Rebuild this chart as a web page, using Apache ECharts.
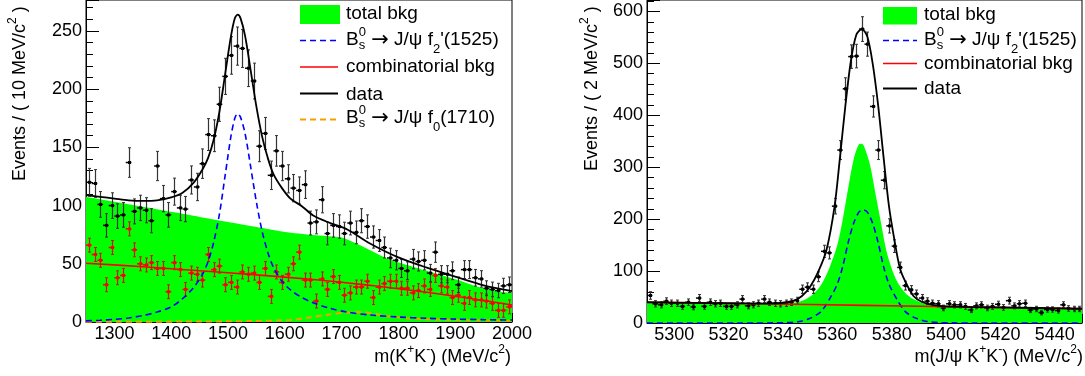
<!DOCTYPE html>
<html>
<head>
<meta charset="utf-8">
<script src="https://cdn.jsdelivr.net/npm/echarts@6.0.0/dist/echarts.min.js"></script>
<style>
  html, body { margin: 0; padding: 0; background: #fff; }
  #chart { width: 1085px; height: 376px; }
</style>
</head>
<body>
<div id="chart"></div>
<script>
// ---- left panel: m(K+K-), 10 MeV bins ----
const kkBins = [];
for (let m = 1255; m < 2000; m += 10) kkBins.push(m);

const kkData = [120,119,101,83,100,91,92,137,95,98, 96,87,134,106,92,112,98,97,122,116,
  136,161,160,187,211,229,237,235,218,207, 151,162,126,147,134,123,115,113,118,85,
  86,105,76,83,82,76,85,77,87,82, 73,70,64,55,53,46,44,54,52,53,
  42,60,41,41,44,32,45,45,38,37, 29,28,27,31,32];

const kkComb = [66,58,53,32,64,38,40,80,62,50, 49,51,46,46,26,51,45,28,42,41,
  36,58,45,48,32,34,30,43,41,42, 34,46,22,43,34,41,50,60,36,36,
  18,37,28,39,34,23,25,30,30,35, 21,30,33,35,35,29,29,25,27,31,
  28,40,31,30,21,23,16,21,19,19, 18,16,10,10,13];
const kkCombErr = 6;

const kkFitM = [1250,1275,1300,1325,1350,1375,1400,1420,1440,1455,1465,1475,1485,1495,1505,1512,1517,1522,
  1530,1540,1550,1560,1570,1580,1595,1610,1630,1650,1680,1710,1750,1800,1850,1900,1950,2000];
const kkFitTotal = [109,107.5,106,104.5,104,104.5,107,111,120,131,141,157,181,213,245,261,264,261,
  246,216,185,159.5,141,127,115,106,99.5,91.5,85,79.5,67.5,55.5,46.7,39,31.5,26.5];
const kkFitSig = [1,1.5,2.3,3.5,5.5,8.5,13,20,30,41,52,69,93,126,159,175,179,176,
  162,133,103,78,60,47,35,27.5,21,16.5,11.7,8.5,6,4.3,3.2,2.5,2,1.7];

const kkBkgM = [1250,1300,1350,1400,1450,1500,1550,1600,1650,1700,1720,1745,1780,1815,1845,1875,1905,1940,1980,2000];
const kkBkg = [107.6,103.3,99,94.6,90.3,86,81.7,77.4,74.8,72.6,68.8,63,54.6,49,44.6,40.3,36,30.2,26,24.8];

const kkCombM = [1250,1350,1450,1550,1650,1750,1850,1950,2000];
const kkCombFit = [50.5,47.5,44,40.5,36.5,31.5,25.5,18.5,14.5];

const kkF0M = [1250,1450,1550,1611,1645,1675,1700,1720,1740,1760,1786,1815,1845,1900,1950,2000];
const kkF0 = [0.2,0.4,0.9,1.8,4,6.2,7.8,8.5,8.2,6.8,4.8,3.3,2.4,1.7,1.3,1.1];

// ---- right panel: m(J/psi K+K-), 2 MeV bins ----
const jpsiBins = [];
for (let m = 5291; m < 5450; m += 2) jpsiBins.push(m);

const jpsiData = [53,37,35,42,38,38,32,40,31,48, 32,40,37,38,32,32,35,46,33,35,
  38,46,40,38,37,38,40,43,65,69, 65,89,138,135,225,333,451,513,514,566,
  537,417,333,275,187,148,107,72,64,56, 48,42,38,37,29,37,35,35,32,25,
  33,35,29,32,36,30,43,33,37,38, 25,27,20,26,26,24,35,28,27,27];

const jpsiFitM = [5290,5320,5335,5340,5344,5347,5350,5353,5356,5359,5361,5363,5365,5367,5369,5371,5373,
  5375,5377,5379,5381,5383,5385,5388,5391,5395,5400,5420,5450];
const jpsiFitTotal = [40,38,37.5,39,43,52,70,99,140,225,320,420,505,555,566,552,500,
  420,320,225,160,106,80,52,41,35,32,30,27.5];

const jpsiBkgM = [5290,5330,5340,5345,5348,5351,5354,5357,5360,5362,5364,5366,5368,5369,5370,5372,5374,
  5376,5378,5380,5382,5385,5388,5391,5395,5410,5450];
const jpsiBkg = [39.5,37.5,38,40,45,55,73,105,150,200,260,315,344,345,338,305,250,
  195,140,105,80,58,46,39,35,31,28];

const jpsiSigM = [5290,5330,5336.5,5341.5,5346,5350,5354,5357,5360,5362,5364,5366,5368,5369.5,5371,5373,5375,
  5377,5379,5382,5385,5389,5393,5397.5,5402.5,5410,5450];
const jpsiSig = [0,0,0.2,0.8,3,9,22,45,75,109,155,192,214,218,214,192,155,
  109,75,45,22,9,3,0.8,0.2,0,0];

const jpsiCombM = [5290,5330,5370,5410,5450];
const jpsiCombFit = [40,37,34,30.5,27.5];

// ---- helpers ----
const zip = (xs, ys) => xs.map((x, i) => [x, ys[i]]);
const FONT = '"Liberation Sans", Arial, sans-serif';
const ARROW_FONT = '"DejaVu Sans", sans-serif';

const measure = document.createElement('canvas').getContext('2d');
function textWidth(s, size, family) {
	measure.font = size + 'px ' + (family || FONT);
	return measure.measureText(s).width;
}

// parts: {t, s, dy, f} or {stack: [...]} laid out left to right
function richText(parts, x, y, opts) {
	opts = opts || {};
	const children = [];
	let cx = 0;
	const put = (p, px) => children.push({
		type: 'text', x: px, y: p.dy || 0,
		style: { text: p.t, font: p.s + 'px ' + (p.f || FONT), fill: '#000', verticalAlign: 'middle', align: 'left' }
	});
	parts.forEach(p => {
		if (p.stack) {
			p.stack.forEach(q => put(q, cx));
			cx += Math.max(...p.stack.map(q => textWidth(q.t, q.s, q.f)));
		} else {
			put(p, cx);
			cx += textWidth(p.t, p.s, p.f);
		}
	});
	if (opts.align === 'right') children.forEach(c => { c.x -= cx; });
	return { type: 'group', x: x, y: y, rotation: opts.rotation || 0, children: children, z: 100 };
}

function bsLabel(tail, sub, tail2) {
	return [
		{ t: 'B', s: 19 },
		{ stack: [{ t: '0', s: 13, dy: -8 }, { t: 's', s: 13, dy: 5 }] },
		{ t: ' ', s: 19 },
		{ t: '\u2192', s: 21, f: ARROW_FONT, dy: 1 },
		{ t: ' J/\u03c8 ' + tail, s: 19 },
		{ t: sub, s: 13, dy: 9 },
		{ t: tail2, s: 19 }
	];
}

function errorBars(color, barColor, halfWidth, hWidth) {
	return function (params, api) {
		const x = api.value(0), y = api.value(1), e = api.value(2);
		const c = api.coord([x, y]);
		const lo = api.coord([x, y - e]);
		const hi = api.coord([x, y + e]);
		const l = api.coord([x - halfWidth, y]);
		const r = api.coord([x + halfWidth, y]);
		const px = Math.round(c[0]) + 0.5;
		const cap = 1.5;
		return {
			type: 'group',
			children: [
				{ type: 'line', shape: { x1: px, y1: lo[1], x2: px, y2: hi[1] }, style: { stroke: barColor, lineWidth: 1.2 } },
				{ type: 'line', shape: { x1: px - cap, y1: lo[1], x2: px + cap, y2: lo[1] }, style: { stroke: barColor, lineWidth: 1 } },
				{ type: 'line', shape: { x1: px - cap, y1: hi[1], x2: px + cap, y2: hi[1] }, style: { stroke: barColor, lineWidth: 1 } },
				{ type: 'line', shape: { x1: l[0], y1: c[1], x2: r[0], y2: c[1] }, style: { stroke: color, lineWidth: hWidth } },
				{ type: 'rect', shape: { x: px - 1.5, y: c[1] - 1.5, width: 3, height: 3 }, style: { fill: color } }
			]
		};
	};
}

function curve(name, xs, ys, idx, color, width, dash, z) {
	return {
		name: name, type: 'line', xAxisIndex: idx, yAxisIndex: idx,
		data: zip(xs, ys), showSymbol: false, symbol: 'none', smooth: 0.3,
		lineStyle: { color: color, width: width, type: dash || 'solid' },
		z: z, silent: true
	};
}

const axisCommon = {
	axisLine: { lineStyle: { color: '#000', width: 1 } },
	axisTick: { inside: true, lineStyle: { color: '#000' } },
	minorTick: { show: true, lineStyle: { color: '#000' } },
	splitLine: { show: false },
	axisLabel: { color: '#000', fontSize: 18, fontFamily: FONT }
};

const myChart = echarts.init(document.getElementById('chart'));

const option = {
	animation: false,
	backgroundColor: '#fff',
	grid: [
		{ left: 86, right: 573, top: 0, bottom: 54, show: true, borderColor: '#000', borderWidth: 1 },
		{ left: 647, right: 2, top: 0, bottom: 53, show: true, borderColor: '#000', borderWidth: 1 }
	],
	xAxis: [
		Object.assign({}, axisCommon, {
			type: 'value', gridIndex: 0, min: 1250, max: 2000, interval: 50,
			axisTick: { inside: true, length: 9, lineStyle: { color: '#000' } },
			minorTick: { show: true, splitNumber: 5, length: 5, lineStyle: { color: '#000' } },
			axisLabel: { color: '#000', fontSize: 18, fontFamily: FONT, margin: 3,
				formatter: v => (v % 100 === 0 ? String(v) : '') }
		}),
		Object.assign({}, axisCommon, {
			type: 'value', gridIndex: 1, min: 5290, max: 5450, interval: 10,
			axisTick: { inside: true, length: 9, lineStyle: { color: '#000' } },
			minorTick: { show: true, splitNumber: 2, length: 5, lineStyle: { color: '#000' } },
			axisLabel: { color: '#000', fontSize: 18, fontFamily: FONT, margin: 3,
				formatter: v => (v % 20 === 0 ? String(v) : '') }
		})
	],
	yAxis: [
		Object.assign({}, axisCommon, {
			type: 'value', gridIndex: 0, min: 0, max: 276.6, interval: 50,
			axisTick: { inside: true, length: 13, lineStyle: { color: '#000' } },
			minorTick: { show: true, splitNumber: 5, length: 7, lineStyle: { color: '#000' } },
			axisLabel: { color: '#000', fontSize: 18, fontFamily: FONT, margin: 4, showMaxLabel: false }
		}),
		Object.assign({}, axisCommon, {
			type: 'value', gridIndex: 1, min: 0, max: 622, interval: 100,
			axisTick: { inside: true, length: 13, lineStyle: { color: '#000' } },
			minorTick: { show: true, splitNumber: 5, length: 7, lineStyle: { color: '#000' } },
			axisLabel: { color: '#000', fontSize: 18, fontFamily: FONT, margin: 4, showMaxLabel: false }
		})
	],
	series: [
		// left panel
		{
			name: 'total bkg', type: 'line', xAxisIndex: 0, yAxisIndex: 0,
			data: zip(kkBkgM, kkBkg), showSymbol: false, symbol: 'none', smooth: 0.2,
			lineStyle: { width: 0 }, areaStyle: { color: '#00ff00', opacity: 1 }, z: 1, silent: true
		},
		{
			name: 'comb data', type: 'custom', xAxisIndex: 0, yAxisIndex: 0, z: 3,
			renderItem: errorBars('#ff0000', '#c81a10', 5, 1.6),
			data: kkBins.map((m, i) => [m, kkComb[i], kkCombErr]), silent: true
		},
		{
			name: 'data', type: 'custom', xAxisIndex: 0, yAxisIndex: 0, z: 3,
			renderItem: errorBars('#000', '#333', 5, 1.5),
			data: kkBins.map((m, i) => [m, kkData[i], Math.sqrt(kkData[i]) + 1]), silent: true
		},
		curve('f0', kkF0M, kkF0, 0, '#f5a000', 2, [6, 4], 4),
		curve('signal', kkFitM, kkFitSig, 0, '#0000ff', 1.6, [6, 4], 4),
		curve('comb', kkCombM, kkCombFit, 0, '#ff0000', 1.6, null, 4),
		curve('fit', kkFitM, kkFitTotal, 0, '#000', 1.8, null, 5),
		// right panel
		{
			name: 'total bkg 2', type: 'line', xAxisIndex: 1, yAxisIndex: 1,
			data: zip(jpsiBkgM, jpsiBkg), showSymbol: false, symbol: 'none', smooth: 0.3,
			lineStyle: { width: 0 }, areaStyle: { color: '#00ff00', opacity: 1 }, z: 1, silent: true
		},
		curve('signal 2', jpsiSigM, jpsiSig, 1, '#0000ff', 1.6, [6, 4], 4),
		curve('comb 2', jpsiCombM, jpsiCombFit, 1, '#ff0000', 1.6, null, 4),
		{
			name: 'data 2', type: 'custom', xAxisIndex: 1, yAxisIndex: 1, z: 3,
			renderItem: errorBars('#000', '#333', 1, 1.5),
			data: jpsiBins.map((m, i) => [m, jpsiData[i], Math.sqrt(jpsiData[i])]), silent: true
		},
		curve('fit 2', jpsiFitM, jpsiFitTotal, 1, '#000', 1.8, null, 5)
	],
	graphic: [
		// axis titles
		richText([{ t: 'Events / ( 10 MeV/c', s: 18 }, { t: '2', s: 12, dy: -7 }, { t: ' )', s: 18 }],
			20, 181, { rotation: Math.PI / 2 }),
		richText([{ t: 'm(K', s: 18 }, { t: '+', s: 12, dy: -7 }, { t: 'K', s: 18 }, { t: '-', s: 12, dy: -7 },
			{ t: ') (MeV/c', s: 18 }, { t: '2', s: 12, dy: -7 }, { t: ')', s: 18 }],
			511, 357, { align: 'right' }),
		richText([{ t: 'Events / ( 2 MeV/c', s: 18 }, { t: '2', s: 12, dy: -7 }, { t: ' )', s: 18 }],
			592, 171, { rotation: Math.PI / 2 }),
		richText([{ t: 'm(J/\u03c8 K', s: 18 }, { t: '+', s: 12, dy: -7 }, { t: 'K', s: 18 }, { t: '-', s: 12, dy: -7 },
			{ t: ') (MeV/c', s: 18 }, { t: '2', s: 12, dy: -7 }, { t: ')', s: 18 }],
			1083, 357, { align: 'right' }),
		// left legend
		{ type: 'rect', shape: { x: 300, y: 5, width: 40, height: 19 }, style: { fill: '#00ff00' }, z: 100 },
		{ type: 'line', shape: { x1: 300, y1: 40.5, x2: 338, y2: 40.5 }, style: { stroke: '#0000ff', lineWidth: 1.6, lineDash: [6, 4] }, z: 100 },
		{ type: 'line', shape: { x1: 300, y1: 67, x2: 338, y2: 67 }, style: { stroke: '#ff0000', lineWidth: 1.6 }, z: 100 },
		{ type: 'line', shape: { x1: 300, y1: 93.5, x2: 338, y2: 93.5 }, style: { stroke: '#000', lineWidth: 1.8 }, z: 100 },
		{ type: 'line', shape: { x1: 300, y1: 119.5, x2: 338, y2: 119.5 }, style: { stroke: '#f5a000', lineWidth: 2, lineDash: [6, 4] }, z: 100 },
		richText([{ t: 'total bkg', s: 19 }], 346, 14),
		richText(bsLabel('f', '2', "'(1525)"), 346, 40),
		richText([{ t: 'combinatorial bkg', s: 19 }], 346, 66.5),
		richText([{ t: 'data', s: 19 }], 346, 94.5),
		richText(bsLabel('f', '0', '(1710)'), 346, 118),
		// right legend
		{ type: 'rect', shape: { x: 883, y: 7, width: 34, height: 17.5 }, style: { fill: '#00ff00' }, z: 100 },
		{ type: 'line', shape: { x1: 883, y1: 40.5, x2: 917, y2: 40.5 }, style: { stroke: '#0000ff', lineWidth: 1.6, lineDash: [6, 4] }, z: 100 },
		{ type: 'line', shape: { x1: 883, y1: 63.5, x2: 917, y2: 63.5 }, style: { stroke: '#ff0000', lineWidth: 1.6 }, z: 100 },
		{ type: 'line', shape: { x1: 883, y1: 88.5, x2: 917, y2: 88.5 }, style: { stroke: '#000', lineWidth: 1.8 }, z: 100 },
		richText([{ t: 'total bkg', s: 19 }], 924, 15),
		richText(bsLabel('f', '2', "'(1525)"), 924, 40),
		richText([{ t: 'combinatorial bkg', s: 19 }], 924, 63.5),
		richText([{ t: 'data', s: 19 }], 924, 89)
	]
};

myChart.setOption(option);
</script>
</body>
</html>
